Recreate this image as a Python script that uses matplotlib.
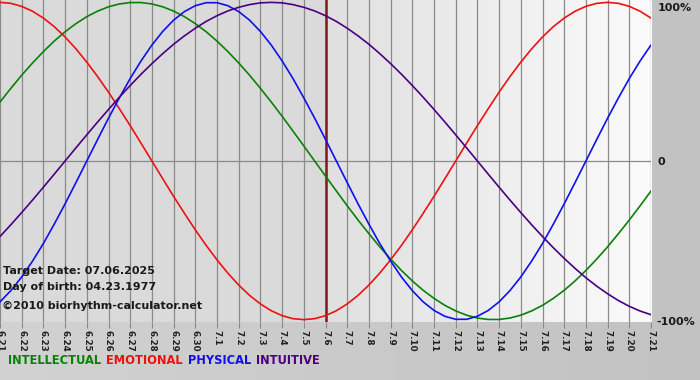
import numpy as np
import matplotlib
matplotlib.use("Agg")
import matplotlib.pyplot as plt
from matplotlib.colors import LinearSegmentedColormap

# dates shown along the bottom (6.21 .. 7.21)
days = ["6.21", "6.22", "6.23", "6.24", "6.25", "6.26", "6.27", "6.28", "6.29", "6.30",
        "7.1", "7.2", "7.3", "7.4", "7.5", "7.6", "7.7", "7.8", "7.9", "7.10",
        "7.11", "7.12", "7.13", "7.14", "7.15", "7.16", "7.17", "7.18", "7.19", "7.20", "7.21"]
target_day = "7.6"

# values every half day (-1 .. 1), 6.21 00h .. 7.21 00h
intellectual = [0.372, 0.458, 0.541, 0.618, 0.690, 0.756, 0.815, 0.866, 0.910, 0.945,
                0.972, 0.990, 0.999, 0.999, 0.990, 0.972, 0.945, 0.910, 0.866, 0.815,
                0.756, 0.690, 0.618, 0.541, 0.458, 0.372, 0.282, 0.189, 0.095, 0.000,
                -0.095, -0.189, -0.282, -0.372, -0.458, -0.541, -0.618, -0.690, -0.756, -0.815,
                -0.866, -0.910, -0.945, -0.972, -0.990, -0.999, -0.999, -0.990, -0.972, -0.945,
                -0.910, -0.866, -0.815, -0.756, -0.690, -0.618, -0.541, -0.458, -0.372, -0.282, -0.189]
emotional = [1.000, 0.994, 0.975, 0.944, 0.901, 0.847, 0.782, 0.707, 0.623, 0.532,
             0.434, 0.330, 0.223, 0.112, 0.000, -0.112, -0.223, -0.330, -0.434, -0.532,
             -0.623, -0.707, -0.782, -0.847, -0.901, -0.944, -0.975, -0.994, -1.000, -0.994,
             -0.975, -0.944, -0.901, -0.847, -0.782, -0.707, -0.623, -0.532, -0.434, -0.330,
             -0.223, -0.112, 0.000, 0.112, 0.223, 0.330, 0.434, 0.532, 0.623, 0.707,
             0.782, 0.847, 0.901, 0.944, 0.975, 0.994, 1.000, 0.994, 0.975, 0.944, 0.901]
physical = [-0.888, -0.817, -0.731, -0.631, -0.520, -0.398, -0.270, -0.136, 0.000, 0.136,
            0.270, 0.398, 0.520, 0.631, 0.731, 0.817, 0.888, 0.942, 0.979, 0.998,
            0.998, 0.979, 0.942, 0.888, 0.817, 0.731, 0.631, 0.520, 0.398, 0.270,
            0.136, 0.000, -0.136, -0.270, -0.398, -0.520, -0.631, -0.731, -0.817, -0.888,
            -0.942, -0.979, -0.998, -0.998, -0.979, -0.942, -0.888, -0.817, -0.731, -0.631,
            -0.520, -0.398, -0.270, -0.136, 0.000, 0.136, 0.270, 0.398, 0.520, 0.631, 0.731]
intuitive = [-0.476, -0.402, -0.325, -0.246, -0.165, -0.083, 0.000, 0.083, 0.165, 0.246,
             0.325, 0.402, 0.476, 0.547, 0.614, 0.677, 0.736, 0.789, 0.837, 0.880,
             0.916, 0.946, 0.969, 0.986, 0.997, 1.000, 0.997, 0.986, 0.969, 0.946,
             0.916, 0.880, 0.837, 0.789, 0.736, 0.677, 0.614, 0.547, 0.476, 0.402,
             0.325, 0.246, 0.165, 0.083, 0.000, -0.083, -0.165, -0.246, -0.325, -0.402,
             -0.476, -0.547, -0.614, -0.677, -0.736, -0.789, -0.837, -0.880, -0.916, -0.946, -0.969]

series = [("INTELLECTUAL", intellectual, "#078207"),
          ("EMOTIONAL", emotional, "#ee1111"),
          ("PHYSICAL", physical, "#1010ee"),
          ("INTUITIVE", intuitive, "#4b0082")]

W, H = 700, 380
fig = plt.figure(figsize=(W / 100, H / 100), dpi=100, facecolor="#c6c6c6")

# outer background: soft grey gradient
bg = fig.add_axes([0, 0, 1, 1], zorder=-10)
bg.imshow(np.linspace(0, 1, 256).reshape(1, -1), aspect="auto", extent=[0, 1, 0, 1],
          cmap=LinearSegmentedColormap.from_list("o", ["#d2d2d2", "#c2c2c2"]))
bg.axis("off")

x = np.arange(len(days))
xs = np.arange(len(physical)) / 2.0
ti = days.index(target_day)

ax = fig.add_axes([0, 1 - 322 / H, 651 / W, 322 / H])
ax.set_xlim(0, len(days) - 1)
ax.set_ylim(-1.015, 1.015)

# plot area background: flat grey before target, fading to white after
ax.imshow([[0, 0]], extent=[0, ti, -1.015, 1.015], aspect="auto",
          cmap=LinearSegmentedColormap.from_list("l", ["#dadada", "#dadada"]), zorder=0)
ax.imshow(np.linspace(0, 1, 256).reshape(1, -1), extent=[ti, len(days) - 1, -1.015, 1.015],
          aspect="auto", cmap=LinearSegmentedColormap.from_list("r", ["#e0e0e0", "#fbfbfb"]), zorder=0)

for xv in x:
    ax.axvline(xv, color="#8a8a8a", lw=0.9, zorder=1)
ax.axhline(0, color="#8a8a8a", lw=0.9, zorder=1)
ax.axvline(ti, color="#7a1c1c", lw=1.8, zorder=2)

for name, vals, col in series:
    ax.plot(xs, vals, color=col, lw=1.2, zorder=3, solid_capstyle="round")

for s in ax.spines.values():
    s.set_visible(False)
ax.set_xticks(x)
ax.set_xticklabels(days, rotation=270, fontsize=6.3, fontweight="bold", color="#202020")
ax.tick_params(axis="x", length=4, color="#8a8a8a", pad=2)
ax.set_yticks([])

txt = dict(fontsize=8.0, fontweight="bold", color="#1a1a1a")
ax.text(0.004, 1 - 271 / 322, "Target Date: 07.06.2025", transform=ax.transAxes, va="center", **txt)
ax.text(0.004, 1 - 287 / 322, "Day of birth: 04.23.1977", transform=ax.transAxes, va="center", **txt)
ax.text(0.003, 1 - 306 / 322, "\u00a92010 biorhythm-calculator.net", transform=ax.transAxes, va="center", **txt)

# right-hand scale
fig.text(658 / W, 1 - 8 / H, "100%", ha="left", va="center", **txt)
fig.text(658 / W, 1 - 162 / H, "0", ha="left", va="center", **txt)
fig.text(656 / W, 1 - 322 / H, "-100%", ha="left", va="center", **txt)

# legend line
xpos = 8
for name, vals, col in series:
    t = fig.text(xpos / W, 1 - 361 / H, name, color=col, fontsize=8.3, fontweight="bold", va="center")
    fig.canvas.draw()
    bb = t.get_window_extent()
    xpos = bb.x1 + 5

fig.savefig("out.png", dpi=100, facecolor=fig.get_facecolor())
